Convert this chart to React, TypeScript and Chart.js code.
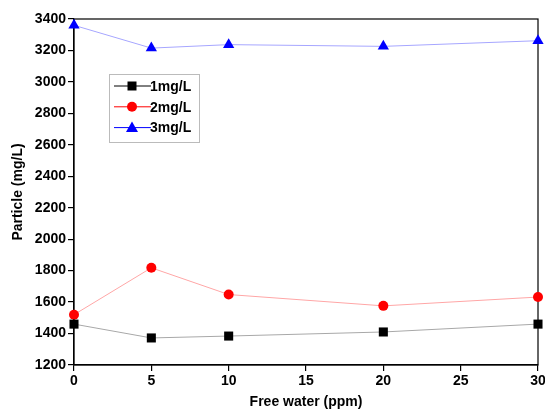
import React, { useEffect, useRef } from "react";
import { Chart, registerables } from "chart.js";

Chart.register(...registerables);

const freeWater = [0, 5, 10, 20, 30];
const series1 = [1460, 1372, 1384, 1410, 1460];
const series2 = [1520, 1818, 1648, 1576, 1632];
const series3 = [3360, 3215, 3237, 3226, 3262];
const seriesLabels = ["1mg/L", "2mg/L", "3mg/L"];
const xTicks = [0, 5, 10, 15, 20, 25, 30];
const yMin = 1200;
const yMax = 3400;

const FONT = "'Liberation Sans', Arial, sans-serif";

const framePlugin = {
  id: "frame",
  beforeDatasetsDraw(chart: any) {
    const { ctx, chartArea: a } = chart;
    ctx.save();
    ctx.strokeStyle = "#000";
    ctx.lineWidth = 1.2;
    ctx.strokeRect(a.left, a.top, a.right - a.left, a.bottom - a.top);
    ctx.restore();
  },
};

function drawMarker(ctx: CanvasRenderingContext2D, style: string, x: number, y: number, color: string) {
  ctx.fillStyle = color;
  ctx.beginPath();
  if (style === "rect") {
    ctx.rect(x - 4.5, y - 4.5, 9, 9);
  } else if (style === "circle") {
    ctx.arc(x, y, 5, 0, Math.PI * 2);
  } else {
    ctx.moveTo(x, y - 6);
    ctx.lineTo(x + 6, y + 4.5);
    ctx.lineTo(x - 6, y + 4.5);
    ctx.closePath();
  }
  ctx.fill();
}

const legendPlugin = {
  id: "boxLegend",
  afterDraw(chart: any) {
    const { ctx } = chart;
    ctx.save();
    ctx.strokeStyle = "#bbbbbb";
    ctx.lineWidth = 1;
    ctx.strokeRect(109.5, 74.5, 90, 68);
    chart.data.datasets.forEach((ds: any, i: number) => {
      const y = 86 + i * 20.8;
      ctx.strokeStyle = ds.pointBackgroundColor;
      ctx.lineWidth = 1;
      ctx.beginPath();
      ctx.moveTo(114, y);
      ctx.lineTo(151, y);
      ctx.stroke();
      drawMarker(ctx, ds.pointStyle, 132, y, ds.pointBackgroundColor);
      ctx.fillStyle = "#000";
      ctx.font = `bold 14px ${FONT}`;
      ctx.textBaseline = "middle";
      ctx.textAlign = "left";
      ctx.fillText(ds.label, 150, y + 1);
    });
    ctx.restore();
  },
};

export default function App() {
  const ref = useRef<HTMLCanvasElement>(null);
  useEffect(() => {
    if (!ref.current) return;
    const mk = (i: number, data: number[], line: string, pt: string, style: string, r: number) => ({
      label: seriesLabels[i],
      data: freeWater.map((x, j) => ({ x, y: data[j] })),
      borderColor: line,
      borderWidth: 1,
      pointBackgroundColor: pt,
      pointBorderColor: pt,
      pointBorderWidth: 0,
      pointStyle: style,
      pointRadius: r,
      pointHoverRadius: r,
      tension: 0,
      clip: false as any,
    });
    const chart = new Chart(ref.current, {
      type: "line",
      data: {
        datasets: [
          mk(0, series1, "#a8a8a8", "#000000", "rect", 6.4),
          mk(1, series2, "#ffa6a6", "#ff0000", "circle", 5),
          mk(2, series3, "#a6a6ff", "#0000ff", "triangle", 6.5),
        ],
      },
      options: {
        animation: false,
        responsive: false,
        events: [],
        layout: { padding: { top: 19, right: 7, left: 0, bottom: 0 } },
        plugins: { legend: { display: false }, tooltip: { enabled: false } },
        scales: {
          x: {
            type: "linear",
            min: 0,
            max: 30,
            afterBuildTicks: (s: any) => {
              s.ticks = xTicks.map((v) => ({ value: v }));
            },
            afterFit: (s: any) => {
              s.height = 47;
              s.paddingRight = 0;
              s.paddingLeft = 0;
            },
            grid: { display: true, drawOnChartArea: false, tickLength: 6, color: "#000", lineWidth: 1.2 },
            border: { display: true, color: "#000", width: 1.2 },
            ticks: {
              color: "#000",
              padding: 2,
              maxRotation: 0,
              callback: (v: any) => String(v),
              font: { family: FONT, size: 14, weight: "bold" },
            },
            title: {
              display: true,
              text: "Free water (ppm)",
              color: "#000",
              padding: { top: 0, bottom: 1 },
              font: { family: FONT, size: 14, weight: "bold" },
            },
          },
          y: {
            type: "linear",
            min: yMin,
            max: yMax,
            ticks: {
              stepSize: 200,
              color: "#000",
              padding: 2,
              callback: (v: any) => String(v),
              font: { family: FONT, size: 14, weight: "bold" },
            },
            afterFit: (s: any) => {
              s.width = 74;
              s.paddingTop = 0;
              s.paddingBottom = 0;
            },
            grid: { display: true, drawOnChartArea: false, tickLength: 6, color: "#000", lineWidth: 1.2 },
            border: { display: true, color: "#000", width: 1.2 },
            title: {
              display: true,
              text: "Particle (mg/L)",
              color: "#000",
              padding: { top: 10, bottom: 0 },
              font: { family: FONT, size: 14, weight: "bold" },
            },
          },
        },
      },
      plugins: [framePlugin, legendPlugin],
    });
    return () => chart.destroy();
  }, []);
  return (
    <div style={{ position: "fixed", left: 0, top: 0, width: 545, height: 412, background: "#fff" }}>
      <canvas ref={ref} width={545} height={412} style={{ width: 545, height: 412 }} />
    </div>
  );
}
